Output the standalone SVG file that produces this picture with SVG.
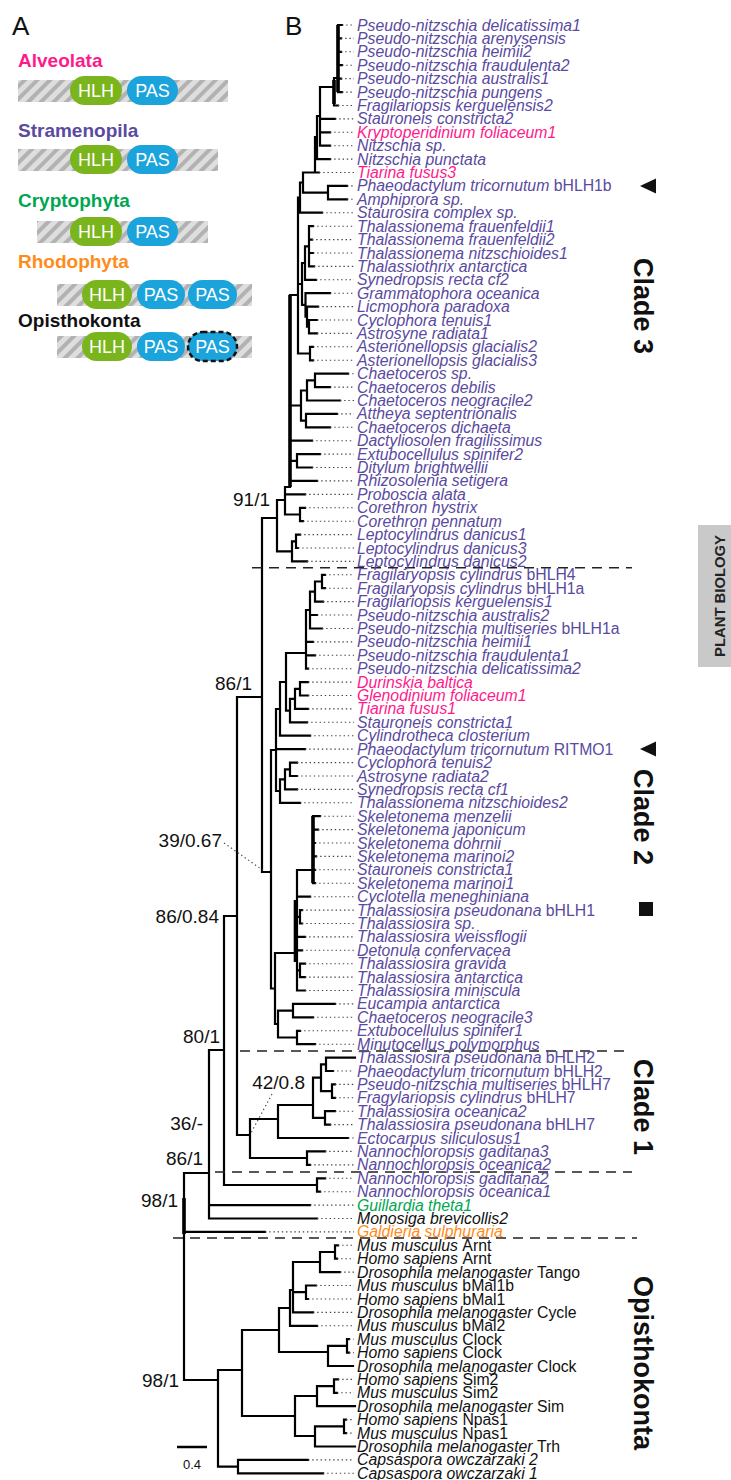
<svg xmlns="http://www.w3.org/2000/svg" width="731" height="1480" viewBox="0 0 731 1480">
<defs>
<pattern id="hatch" width="9" height="9" patternUnits="userSpaceOnUse" patternTransform="rotate(45)">
<rect width="9" height="9" fill="#dedede"/>
<line x1="2" y1="0" x2="2" y2="9" stroke="#b2b2b2" stroke-width="4"/>
</pattern>
<style>
text{font-family:"Liberation Sans",Arial,sans-serif}
.t{font-size:15.8px;font-style:italic;fill:#5a4aa0}
.pk{fill:#ff1a8c}.gr{fill:#00a651}.or{fill:#ff8c1a}.bk{fill:#111}
.n{font-style:normal}
.br{fill:none;stroke:#000;stroke-width:2.2;stroke-linecap:square}
.th{fill:none;stroke:#000;stroke-width:3.6}
.dt{fill:none;stroke:#444;stroke-width:1.1;stroke-dasharray:1.4 2.8}
.sep{fill:none;stroke:#222;stroke-width:1.5;stroke-dasharray:10 7}
.sup{font-size:19px;fill:#111;text-anchor:end}
.cl{font-size:27px;font-weight:bold;fill:#111;text-anchor:middle}
.grp{font-size:19px;font-weight:bold}
.hlh{fill:#7ab51d}.pas{fill:#1ba3dc}
.pt{font-size:18px;fill:#fff;text-anchor:middle}
.lab{font-size:26px;fill:#111}
</style>
</defs>
<rect width="731" height="1480" fill="#fff"/>

<g id="panelA">
<text x="12" y="35" class="lab">A</text>
<g id="alveolata">
<text x="18" y="67" class="grp" fill="#ff1a8c">Alveolata</text>
<rect x="18" y="80" width="210" height="22" fill="url(#hatch)"/>
<rect x="70" y="76" width="52" height="29" rx="14.5" class="hlh"/><text x="96" y="97" class="pt">HLH</text>
<rect x="127" y="76" width="51" height="29" rx="14.5" class="pas"/><text x="152.5" y="97" class="pt">PAS</text>
</g>
<g id="stramenopila">
<text x="18" y="137" class="grp" fill="#5a4aa0">Stramenopila</text>
<rect x="18" y="149" width="200" height="22" fill="url(#hatch)"/>
<rect x="70" y="145" width="52" height="29" rx="14.5" class="hlh"/><text x="96" y="166" class="pt">HLH</text>
<rect x="127" y="145" width="51" height="29" rx="14.5" class="pas"/><text x="152.5" y="166" class="pt">PAS</text>
</g>
<g id="cryptophyta">
<text x="18" y="207" class="grp" fill="#00a651">Cryptophyta</text>
<rect x="37" y="221" width="171" height="22" fill="url(#hatch)"/>
<rect x="70" y="217" width="52" height="29" rx="14.5" class="hlh"/><text x="96" y="238" class="pt">HLH</text>
<rect x="127" y="217" width="51" height="29" rx="14.5" class="pas"/><text x="152.5" y="238" class="pt">PAS</text>
</g>
<g id="rhodophyta">
<text x="18" y="268" class="grp" fill="#ff8c1a">Rhodophyta</text>
<rect x="57" y="284" width="195" height="22" fill="url(#hatch)"/>
<rect x="82" y="280" width="50" height="29" rx="14.5" class="hlh"/><text x="107" y="301" class="pt">HLH</text>
<rect x="137" y="280" width="48" height="29" rx="14.5" class="pas"/><text x="161" y="301" class="pt">PAS</text>
<rect x="188" y="280" width="49" height="29" rx="14.5" class="pas"/><text x="212.5" y="301" class="pt">PAS</text>
</g>
<g id="opisthokonta">
<text x="18" y="327" class="grp" fill="#111">Opisthokonta</text>
<rect x="57" y="336" width="195" height="22" fill="url(#hatch)"/>
<rect x="82" y="332" width="50" height="29" rx="14.5" class="hlh"/><text x="107" y="353" class="pt">HLH</text>
<rect x="137" y="332" width="48" height="29" rx="14.5" class="pas"/><text x="161" y="353" class="pt">PAS</text>
<rect x="188" y="332" width="49" height="29" rx="14.5" class="pas" stroke="#111" stroke-width="2.5" stroke-dasharray="5 3"/><text x="212.5" y="353" class="pt">PAS</text>
</g>
</g>

<text x="285" y="35" class="lab">B</text>

<g id="connectors">
<path class="br" d="M338 25V92.1M338 25H342M338 38.4H341M338 51.8H341M338 65.2H342M338 78.6H341M338 92.1H342
M334 78H338M334 78V105.5M334 105.5H338
M320 87H334M320 87V145.7M320 118.9H335M320 132.3H330M320 145.7H330
M317 116H320M317 116V159.1M317 159.1H330
M315 137H317M315 137V172.5M303 172.5H319
M303 172.5V192.6M303 192.6H328M328 185.9V199.3M328 185.9H347M328 199.3H347
M300 182.5H303M300 182.5V212.7M300 212.7H322
M298 197.6H300
M309 226.2V266.4M309 226.2H313M309 239.6H312M309 253H313M309 266.4H314
M305 246.3H309M305 246.3V279.8M305 279.8H316
M309 320V333.4M309 320H317M309 333.4H317
M307 326.7H309M307 306.6V326.7M307 306.6H318
M305.5 316.6H307M305.5 293.2V316.6M305.5 293.2H330
M302 263H305M302 263V304.9M302 304.9H305.5
M310 346.8V360.3M310 346.8H313M310 360.3H313
M298 197.6V353.5M298 284H302M298 353.5H310
M290 295H298
M315 373.7V387.1M315 373.7H348M315 387.1H330
M307 380.4H315M307 380.4V400.5M307 400.5H340
M306 413.9V427.3M306 413.9H337M306 427.3H330
M301 390.5H307M301 390.5V420.6M301 420.6H306
M290 405.5H301M290 440.7H312
M297 454.1V467.5M297 454.1H320M297 467.5H312M290 460.8H297
M290 480.9H317
M285 487H290M285 487V514.5M285 494.4H305
M300 507.8V521.2M300 507.8H305M300 521.2H303M285 514.5H300
M296 534.6V548M296 534.6H300M296 548H298
M292 541.3H296M292 541.3V561.4M292 561.4H307
M277 500H285M277 500V551.4M277 551.4H292
M262 518H277
M322 574.8V588.2M322 574.8H325M322 588.2H325
M315 581.5H322M315 581.5V601.6M315 601.6H323
M310 591.6H315M310 591.6V628.5M310 615H317M310 628.5H322
M306 610H310M306 610V668.7M306 641.9H313M306 655.3H315M306 668.7H308
M286 653H306
M300 682.1V695.5M300 682.1H308M300 695.5H308
M295 688.8H300M295 688.8V708.9M295 708.9H308
M290 698.9H295M290 698.9V722.3M290 722.3H307
M286 653V710.6M286 710.6H290
M280 682H286M280 682V735.7M280 735.7H310
M290 762.6V776M290 762.6H297M290 776H297
M285 769.3H290M285 769.3V789.4M285 789.4H297
M280 779.3H285M280 779.3V802.8M280 802.8H300
M276 709H280M276 709V791M276 791H280M276 749.1H305
M271 750H276M271 750V988.5
M313 816.2V883.2M313 816.2H320M313 829.6H318M313 843H315M313 856.4H316M313 869.8H315M313 883.2H315
M297 870H313M297 870V990.5M297 896.7H310
M300 910.1V923.5M300 910.1H302M300 923.5H302M297 916.8H300
M297 936.9H305M297 950.3H302
M300 963.7V977.1M300 963.7H305M300 977.1H305M297 970.4H300
M297 990.5H305
M275 953H297
M293 1003.9V1017.3M293 1003.9H335M293 1017.3H313
M297 1030.8V1044.2M297 1030.8H300M297 1044.2H315
M278 1010.6H293M278 1010.6V1037.5M278 1037.5H297
M275 953V1024M275 1024H278
M271 988.5H275
M262 518V872M262 872H271
M237 697H262M237 697V1135
M326 1057.6V1071M326 1057.6H355M326 1071H333
M332 1084.4V1097.8M332 1084.4H335M332 1097.8H335
M321 1064.3H326M321 1064.3V1091.1M321 1091.1H332
M325 1111.2V1124.6M325 1111.2H335M325 1124.6H330
M313 1077.7H321M313 1077.7V1117.9M313 1117.9H325
M278 1105H313M278 1105V1138M278 1138H348
M307 1151.4V1164.9M307 1151.4H325M307 1164.9H310
M250 1119H278M250 1119V1158M250 1158H307
M237 1135H250
M224 916H237M224 916V1185
M317 1178.3V1191.7M317 1178.3H325M317 1191.7H320
M224 1185H317
M209 1050H224M209 1050V1218.5M209 1205.1H310M209 1218.5H317
M184 1173H209M184 1173V1380M184 1231.9H265
M184 1380H218
M218 1370V1466.6M218 1370H242M218 1466.6H238
M238 1459.9V1473.3M238 1459.9H308M238 1473.3H323
M242 1330V1416M242 1330H279M242 1416H295
M279 1308V1352M279 1308H290M279 1352H328
M290 1290V1325.8M290 1325.8H317M290 1290H293
M293 1262V1312.4M293 1262H320M293 1292.2H306M293 1312.4H313
M335 1245.3V1258.7M335 1245.3H338M335 1258.7H337
M320 1252H335M320 1252V1272.1M320 1272.1H340
M306 1285.5V1299M306 1285.5H316M306 1299H308
M328 1345.9V1366M328 1345.9H347M328 1366H353
M347 1339.2V1352.6M347 1339.2H349M347 1352.6H349
M295 1396V1436M295 1396H317M295 1436H315
M317 1386.1V1406.2M317 1386.1H334M317 1406.2H355
M334 1379.4V1392.8M334 1379.4H338M334 1392.8H337
M315 1426.4V1446.5M315 1426.4H344M315 1446.5H355
M344 1419.6V1433.1M344 1419.6H346M344 1433.1H346"/>
<path class="th" d="M290 295V487M338 25V92M313 816V883M295.5 900V962M184 1198V1234M334 80V104"/>
<path class="dt" d="M342 25H354M341 38.4H354M341 51.8H354M342 65.2H354M341 78.6H354M342 92.1H354M338 105.5H354M335 118.9H354M330 132.3H354M330 145.7H354M330 159.1H354M319 172.5H354M347 185.9H354M347 199.3H354M322 212.7H354M313 226.2H354M312 239.6H354M313 253H354M314 266.4H354M316 279.8H354M330 293.2H354M318 306.6H354M317 320H354M317 333.4H354M313 346.8H354M313 360.3H354M348 373.7H354M330 387.1H354M340 400.5H354M337 413.9H354M330 427.3H354M312 440.7H354M320 454.1H354M312 467.5H354M317 480.9H354M305 494.4H354M305 507.8H354M303 521.2H354M300 534.6H354M298 548H354M307 561.4H354
M325 574.8H354M325 588.2H354M323 601.6H354M317 615H354M322 628.5H354M313 641.9H354M315 655.3H354M308 668.7H354M308 682.1H354M308 695.5H354M308 708.9H354M307 722.3H354M310 735.7H354M305 749.1H354M297 762.6H354M297 776H354M297 789.4H354M300 802.8H354M320 816.2H354M318 829.6H354M315 843H354M316 856.4H354M315 869.8H354M315 883.2H354M310 896.7H354M302 910.1H354M302 923.5H354M305 936.9H354M302 950.3H354M305 963.7H354M305 977.1H354M305 990.5H354M335 1003.9H354M313 1017.3H354M300 1030.8H354M315 1044.2H354
M333 1071H354M335 1084.4H354M335 1097.8H354M335 1111.2H354M330 1124.6H354M348 1138H354M325 1151.4H354M310 1164.9H354M325 1178.3H354M320 1191.7H354M310 1205.1H354M317 1218.5H354M265 1231.9H354
M338 1245.3H354M337 1258.7H354M340 1272.1H354M316 1285.5H354M308 1299H354M313 1312.4H354M317 1325.8H354M349 1339.2H354M349 1352.6H354M338 1379.4H354M337 1392.8H354M346 1419.6H354M346 1433.1H354M308 1459.9H354M323 1473.3H354"/>
<path class="dt" d="M224 843L264 871M272 1094L251 1133"/>
<path class="sep" d="M252 567.7H632M240 1051H625M215 1172H632M173 1238H637"/>
<path d="M177 1447H207" stroke="#000" stroke-width="2.5"/>
</g>

<g id="support">
<text x="270" y="506" class="sup">91/1</text>
<text x="252" y="690" class="sup">86/1</text>
<text x="222" y="847" class="sup">39/0.67</text>
<text x="219" y="923" class="sup">86/0.84</text>
<text x="220" y="1043" class="sup">80/1</text>
<text x="305" y="1089" class="sup">42/0.8</text>
<text x="203" y="1130" class="sup">36/-</text>
<text x="203" y="1165" class="sup">86/1</text>
<text x="178" y="1207" class="sup">98/1</text>
<text x="179" y="1387" class="sup">98/1</text>
<text x="192" y="1469" style="font-size:13px;fill:#111;text-anchor:middle">0.4</text>
</g>

<g id="leaves" class="t">
<text x="357" y="30.5">Pseudo-nitzschia delicatissima1</text>
<text x="357" y="43.9">Pseudo-nitzschia arenysensis</text>
<text x="357" y="57.3">Pseudo-nitzschia heimii2</text>
<text x="357" y="70.7">Pseudo-nitzschia fraudulenta2</text>
<text x="357" y="84.1">Pseudo-nitzschia australis1</text>
<text x="357" y="97.6">Pseudo-nitzschia pungens</text>
<text x="357" y="111">Fragilariopsis kerguelensis2</text>
<text x="357" y="124.4">Stauroneis constricta2</text>
<text x="357" y="137.8" class="pk">Kryptoperidinium foliaceum1</text>
<text x="357" y="151.2">Nitzschia sp.</text>
<text x="357" y="164.6">Nitzschia punctata</text>
<text x="357" y="178" class="pk">Tiarina fusus3</text>
<text x="357" y="191.4">Phaeodactylum tricornutum <tspan class="n">bHLH1b</tspan></text>
<text x="357" y="204.8">Amphiprora sp.</text>
<text x="357" y="218.2">Staurosira complex sp.</text>
<text x="357" y="231.7">Thalassionema frauenfeldii1</text>
<text x="357" y="245.1">Thalassionema frauenfeldii2</text>
<text x="357" y="258.5">Thalassionema nitzschioides1</text>
<text x="357" y="271.9">Thalassiothrix antarctica</text>
<text x="357" y="285.3">Synedropsis recta cf2</text>
<text x="357" y="298.7">Grammatophora oceanica</text>
<text x="357" y="312.1">Licmophora paradoxa</text>
<text x="357" y="325.5">Cyclophora tenuis1</text>
<text x="357" y="338.9">Astrosyne radiata1</text>
<text x="357" y="352.3">Asterionellopsis glacialis2</text>
<text x="357" y="365.8">Asterionellopsis glacialis3</text>
<text x="357" y="379.2">Chaetoceros sp.</text>
<text x="357" y="392.6">Chaetoceros debilis</text>
<text x="357" y="406">Chaetoceros neogracile2</text>
<text x="357" y="419.4">Attheya septentrionalis</text>
<text x="357" y="432.8">Chaetoceros dichaeta</text>
<text x="357" y="446.2">Dactyliosolen fragilissimus</text>
<text x="357" y="459.6">Extubocellulus spinifer2</text>
<text x="357" y="473">Ditylum brightwellii</text>
<text x="357" y="486.4">Rhizosolenia setigera</text>
<text x="357" y="499.9">Proboscia alata</text>
<text x="357" y="513.3">Corethron hystrix</text>
<text x="357" y="526.7">Corethron pennatum</text>
<text x="357" y="540.1">Leptocylindrus danicus1</text>
<text x="357" y="553.5">Leptocylindrus danicus3</text>
<text x="357" y="566.9">Leptocylindrus danicus2</text>
<text x="357" y="580.3">Fragilaryopsis cylindrus <tspan class="n">bHLH4</tspan></text>
<text x="357" y="593.7">Fragilaryopsis cylindrus <tspan class="n">bHLH1a</tspan></text>
<text x="357" y="607.1">Fragilariopsis kerguelensis1</text>
<text x="357" y="620.5">Pseudo-nitzschia australis2</text>
<text x="357" y="634">Pseudo-nitzschia multiseries <tspan class="n">bHLH1a</tspan></text>
<text x="357" y="647.4">Pseudo-nitzschia heimii1</text>
<text x="357" y="660.8">Pseudo-nitzschia fraudulenta1</text>
<text x="357" y="674.2">Pseudo-nitzschia delicatissima2</text>
<text x="357" y="687.6" class="pk">Durinskia baltica</text>
<text x="357" y="701" class="pk">Glenodinium foliaceum1</text>
<text x="357" y="714.4" class="pk">Tiarina fusus1</text>
<text x="357" y="727.8">Stauroneis constricta1</text>
<text x="357" y="741.2">Cylindrotheca closterium</text>
<text x="357" y="754.6">Phaeodactylum tricornutum <tspan class="n">RITMO1</tspan></text>
<text x="357" y="768.1">Cyclophora tenuis2</text>
<text x="357" y="781.5">Astrosyne radiata2</text>
<text x="357" y="794.9">Synedropsis recta cf1</text>
<text x="357" y="808.3">Thalassionema nitzschioides2</text>
<text x="357" y="821.7">Skeletonema menzelii</text>
<text x="357" y="835.1">Skeletonema japonicum</text>
<text x="357" y="848.5">Skeletonema dohrnii</text>
<text x="357" y="861.9">Skeletonema marinoi2</text>
<text x="357" y="875.3">Stauroneis constricta1</text>
<text x="357" y="888.7">Skeletonema marinoi1</text>
<text x="357" y="902.2">Cyclotella meneghiniana</text>
<text x="357" y="915.6">Thalassiosira pseudonana <tspan class="n">bHLH1</tspan></text>
<text x="357" y="929">Thalassiosira sp.</text>
<text x="357" y="942.4">Thalassiosira weissflogii</text>
<text x="357" y="955.8">Detonula confervacea</text>
<text x="357" y="969.2">Thalassiosira gravida</text>
<text x="357" y="982.6">Thalassiosira antarctica</text>
<text x="357" y="996">Thalassiosira miniscula</text>
<text x="357" y="1009.4">Eucampia antarctica</text>
<text x="357" y="1022.8">Chaetoceros neogracile3</text>
<text x="357" y="1036.3">Extubocellulus spinifer1</text>
<text x="357" y="1049.7">Minutocellus polymorphus</text>
<text x="357" y="1063.1">Thalassiosira pseudonana <tspan class="n">bHLH2</tspan></text>
<text x="357" y="1076.5">Phaeodactylum tricornutum <tspan class="n">bHLH2</tspan></text>
<text x="357" y="1089.9">Pseudo-nitzschia multiseries <tspan class="n">bHLH7</tspan></text>
<text x="357" y="1103.3">Fragylariopsis cylindrus <tspan class="n">bHLH7</tspan></text>
<text x="357" y="1116.7">Thalassiosira oceanica2</text>
<text x="357" y="1130.1">Thalassiosira pseudonana <tspan class="n">bHLH7</tspan></text>
<text x="357" y="1143.5">Ectocarpus siliculosus1</text>
<text x="357" y="1156.9">Nannochloropsis gaditana3</text>
<text x="357" y="1170.4">Nannochloropsis oceanica2</text>
<text x="357" y="1183.8">Nannochloropsis gaditana2</text>
<text x="357" y="1197.2">Nannochloropsis oceanica1</text>
<text x="357" y="1210.6" class="gr">Guillardia theta1</text>
<text x="357" y="1224" class="bk">Monosiga brevicollis2</text>
<text x="357" y="1237.4" class="or">Galdieria sulphuraria</text>
<text x="357" y="1250.8" class="bk">Mus musculus <tspan class="n">Arnt</tspan></text>
<text x="357" y="1264.2" class="bk">Homo sapiens <tspan class="n">Arnt</tspan></text>
<text x="357" y="1277.6" class="bk">Drosophila melanogaster <tspan class="n">Tango</tspan></text>
<text x="357" y="1291" class="bk">Mus musculus <tspan class="n">bMal1b</tspan></text>
<text x="357" y="1304.5" class="bk">Homo sapiens <tspan class="n">bMal1</tspan></text>
<text x="357" y="1317.9" class="bk">Drosophila melanogaster <tspan class="n">Cycle</tspan></text>
<text x="357" y="1331.3" class="bk">Mus musculus <tspan class="n">bMal2</tspan></text>
<text x="357" y="1344.7" class="bk">Mus musculus <tspan class="n">Clock</tspan></text>
<text x="357" y="1358.1" class="bk">Homo sapiens <tspan class="n">Clock</tspan></text>
<text x="357" y="1371.5" class="bk">Drosophila melanogaster <tspan class="n">Clock</tspan></text>
<text x="357" y="1384.9" class="bk">Homo sapiens <tspan class="n">Sim2</tspan></text>
<text x="357" y="1398.3" class="bk">Mus musculus <tspan class="n">Sim2</tspan></text>
<text x="357" y="1411.7" class="bk">Drosophila melanogaster <tspan class="n">Sim</tspan></text>
<text x="357" y="1425.1" class="bk">Homo sapiens <tspan class="n">Npas1</tspan></text>
<text x="357" y="1438.6" class="bk">Mus musculus <tspan class="n">Npas1</tspan></text>
<text x="357" y="1452" class="bk">Drosophila melanogaster <tspan class="n">Trh</tspan></text>
<text x="357" y="1465.4" class="bk">Capsaspora owczarzaki 2</text>
<text x="357" y="1478.8" class="bk">Capsaspora owczarzaki 1</text>
</g>

<g id="markers" fill="#111">
<polygon points="640,186 656,178.5 656,193.5"/>
<polygon points="640,749 656,741.5 656,756.5"/>
<rect x="639" y="902" width="14" height="14"/>
</g>

<g id="clades">
<text transform="translate(634,306) rotate(90)" class="cl">Clade 3</text>
<text transform="translate(634,817) rotate(90)" class="cl">Clade 2</text>
<text transform="translate(634,1107) rotate(90)" class="cl">Clade 1</text>
<text transform="translate(634,1363) rotate(90)" class="cl">Opisthokonta</text>
</g>

<g id="tab">
<rect x="698" y="525" width="33" height="142" fill="#c9c9c9"/>
<text transform="translate(725,596) rotate(-90)" style="font-size:15px;font-weight:bold;fill:#222;text-anchor:middle" textLength="122" lengthAdjust="spacingAndGlyphs">PLANT BIOLOGY</text>
</g>
</svg>
